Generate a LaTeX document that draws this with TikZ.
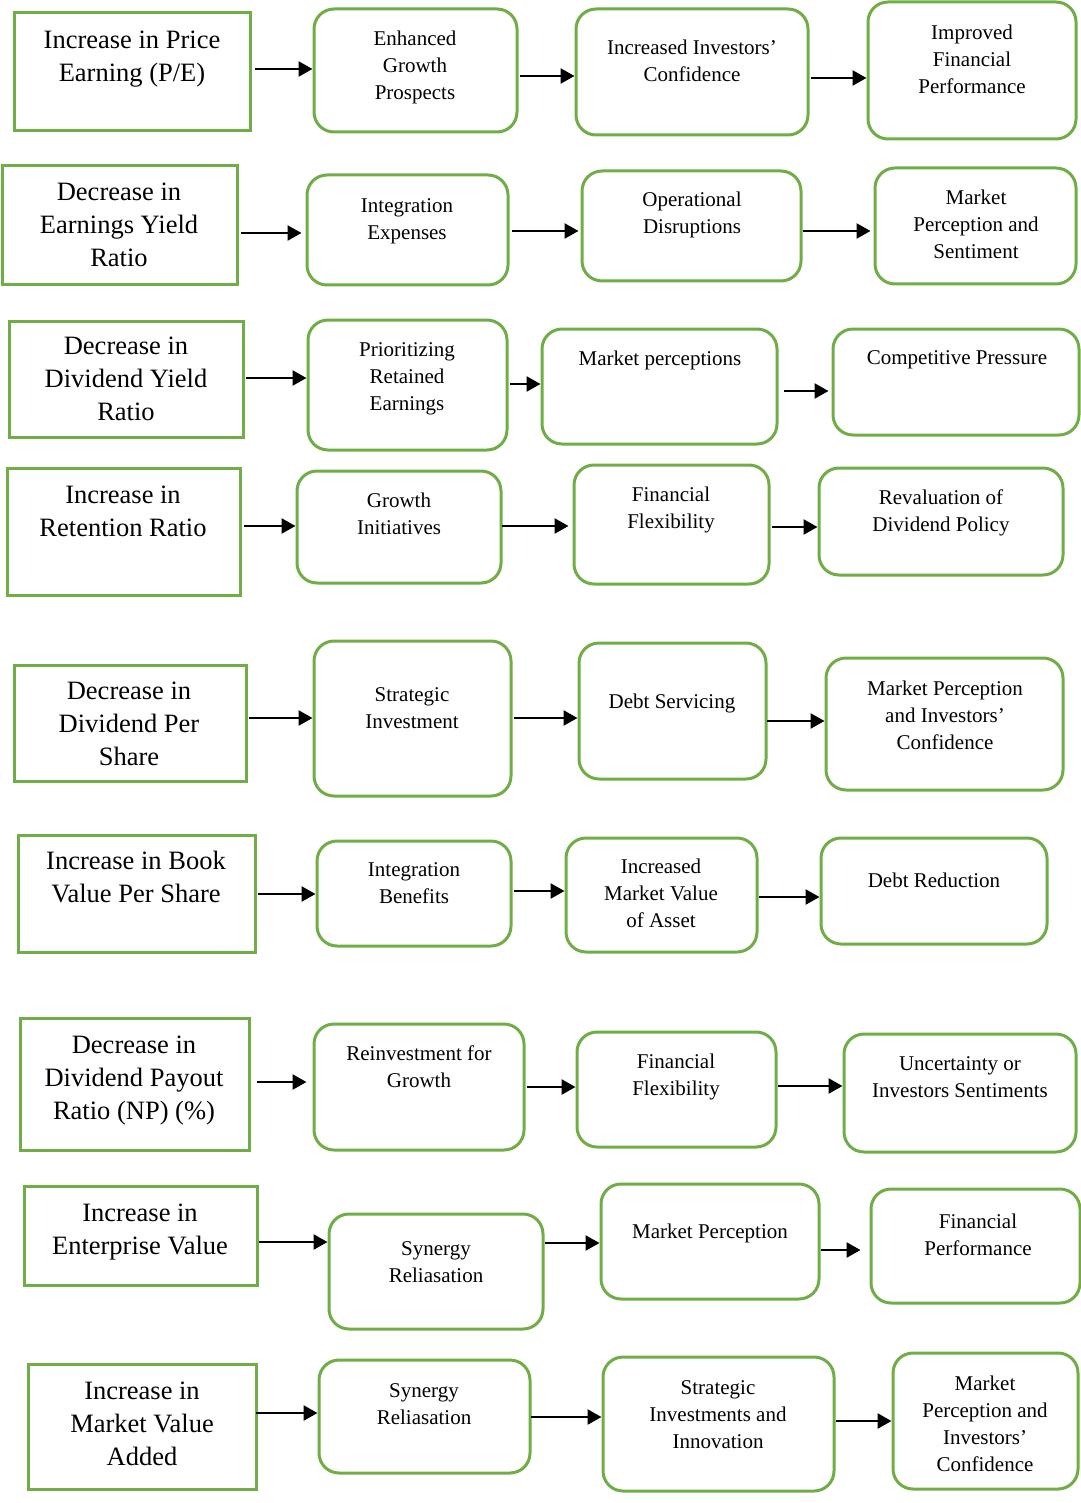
\documentclass[tikz,border=0pt]{standalone}
\usepackage{fontspec}
\setmainfont{Liberation Serif}
\usetikzlibrary{arrows.meta}
\definecolor{grn}{HTML}{70AD47}
\tikzset{
  lbox/.style={draw=grn, line width=3pt, rectangle, inner sep=0pt},
  rbox/.style={draw=grn, line width=3pt, rectangle, rounded corners=20pt, inner sep=0pt},
  ltxt/.style={anchor=north, yshift=14.4pt, inner sep=0pt, align=center, font=\fontsize{26.5}{33}\selectfont},
  rtxt/.style={anchor=north, yshift=12pt, inner sep=0pt, align=center, font=\fontsize{21}{27}\selectfont},
  arr/.style={line width=2.6pt, -{Triangle[length=14pt,width=15pt]}}
}
\newcommand\mybox[9]{%
  \node[#2box, minimum width={#5-#3}, minimum height={#6-#4}] (#1) at ({(#3+#5)/2},{(#4+#6)/2}) {};
  \node[#2txt] (#1t) at (#7,#8) {\strut #9};
}
\newcommand\myarr[4][]{%
  \coordinate (#2s) at #3;
  \draw[arr,#1] (#2s) -- (#4.west |- #2s);
}
\begin{document}
\begin{tikzpicture}[x=1pt,y=-1pt]
\useasboundingbox (0,0) rectangle (1080,1503);
% Row 1
\mybox{L1}{l}{14}{13}{250}{131}{132}{40}{Increase in Price\\Earning (P/E)}
\mybox{A1}{r}{314}{9}{517}{132}{415}{38}{Enhanced\\Growth\\Prospects}
\mybox{B1}{r}{576}{9}{808}{135}{692}{47}{Increased Investors’\\Confidence}
\mybox{C1}{r}{868}{2}{1076}{139}{972}{32}{Improved\\Financial\\Performance}
\myarr{p1a}{(255,69)}{A1}
\myarr{p1b}{(520,76)}{B1}
\myarr{p1c}{(811,78)}{C1}
% Row 2
\mybox{L2}{l}{2}{166}{237}{285}{119}{192}{Decrease in\\Earnings Yield\\Ratio}
\mybox{A2}{r}{307}{175}{508}{285}{407}{205}{Integration\\Expenses}
\mybox{B2}{r}{582}{171}{801}{281}{692}{199}{Operational\\Disruptions}
\mybox{C2}{r}{875}{168}{1076}{284}{976}{197}{Market\\Perception and\\Sentiment}
\myarr[shorten >=4pt]{p2a}{(241,233)}{A2}
\myarr[shorten >=2pt]{p2b}{(512,231)}{B2}
\myarr[shorten >=3pt]{p2c}{(803,231)}{C2}
% Row 3
\mybox{L3}{l}{9}{321}{243}{437}{126}{346}{Decrease in\\Dividend Yield\\Ratio}
\mybox{A3}{r}{308}{320}{507}{450}{407}{349}{Prioritizing\\Retained\\Earnings}
\mybox{B3}{r}{542}{329}{777}{444}{660}{358}{Market perceptions}
\mybox{C3}{r}{833}{329}{1079}{435}{957}{357}{Competitive Pressure}
\myarr{p3a}{(246,378)}{A3}
\myarr{p3b}{(510,384)}{B3}
\myarr[shorten >=3pt]{p3c}{(784,391)}{C3}
% Row 4
\mybox{L4}{l}{7}{468}{240}{595}{123}{495}{Increase in\\Retention Ratio}
\mybox{A4}{r}{297}{471}{501}{583}{399}{500}{Growth\\Initiatives}
\mybox{B4}{r}{574}{465}{769}{584}{671}{494}{Financial\\Flexibility}
\mybox{C4}{r}{819}{468}{1063}{575}{941}{497}{Revaluation of\\Dividend Policy}
\myarr{p4a}{(244,526)}{A4}
\myarr[shorten >=4pt]{p4b}{(502,526)}{B4}
\myarr{p4c}{(772,527)}{C4}
% Row 5
\mybox{L5}{l}{14}{665}{246}{781}{129}{691}{Decrease in\\Dividend Per\\Share}
\mybox{A5}{r}{314}{641}{511}{796}{412}{694}{Strategic\\Investment}
\mybox{B5}{r}{579}{643}{766}{779}{672}{701}{Debt Servicing}
\mybox{C5}{r}{826}{658}{1063}{790}{945}{688}{Market Perception\\and Investors’\\Confidence}
\myarr{p5a}{(249,718)}{A5}
\myarr{p5b}{(514,718)}{B5}
\myarr{p5c}{(767,721)}{C5}
% Row 6
\mybox{L6}{l}{18}{835}{255}{952}{136}{861}{Increase in Book\\Value Per Share}
\mybox{A6}{r}{317}{841}{511}{946}{414}{869}{Integration\\Benefits}
\mybox{B6}{r}{566}{838}{757}{952}{661}{866}{Increased\\Market Value\\of Asset}
\mybox{C6}{r}{821}{838}{1047}{944}{934}{880}{Debt Reduction}
\myarr{p6a}{(258,894)}{A6}
\myarr{p6b}{(514,891)}{B6}
\myarr{p6c}{(759,897)}{C6}
% Row 7
\mybox{L7}{l}{20}{1018}{249}{1150}{134}{1045}{Decrease in\\Dividend Payout\\Ratio (NP) (\%)}
\mybox{A7}{r}{314}{1024}{524}{1150}{419}{1053}{Reinvestment for\\Growth}
\mybox{B7}{r}{577}{1032}{776}{1147}{676}{1061}{Financial\\Flexibility}
\mybox{C7}{r}{844}{1034}{1076}{1152}{960}{1063}{Uncertainty or\\Investors Sentiments}
\myarr[shorten >=6pt]{p7a}{(257,1082)}{A7}
\myarr{p7b}{(527,1087)}{B7}
\myarr{p7c}{(778,1086)}{C7}
% Row 8
\mybox{L8}{l}{24}{1186}{257}{1285}{140}{1213}{Increase in\\Enterprise Value}
\mybox{A8}{r}{329}{1214}{543}{1329}{436}{1248}{Synergy\\Reliasation}
\mybox{B8}{r}{601}{1184}{819}{1299}{710}{1231}{Market Perception}
\mybox{C8}{r}{871}{1189}{1080}{1303}{978}{1221}{Financial\\Performance}
\myarr{p8a}{(259,1242)}{A8}
\myarr{p8b}{(545,1243)}{B8}
\myarr[shorten >=9pt]{p8c}{(821,1250)}{C8}
% Row 9
\mybox{L9}{l}{28}{1364}{256}{1489}{142}{1391}{Increase in\\Market Value\\Added}
\mybox{A9}{r}{319}{1360}{530}{1473}{424}{1390}{Synergy\\Reliasation}
\mybox{B9}{r}{603}{1357}{834}{1491}{718}{1387}{Strategic\\Investments and\\Innovation}
\mybox{C9}{r}{893}{1353}{1078}{1489}{985}{1383}{Market\\Perception and\\Investors’\\Confidence}
\myarr{p9a}{(256,1413)}{A9}
\myarr{p9b}{(531,1417)}{B9}
\myarr{p9c}{(836,1421)}{C9}
\end{tikzpicture}
\end{document}
